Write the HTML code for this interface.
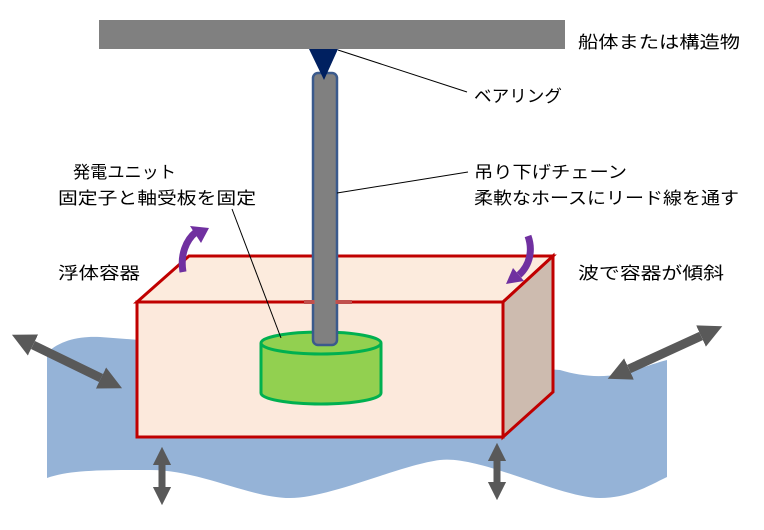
<!DOCTYPE html>
<html><head><meta charset="utf-8"><style>
html,body{margin:0;padding:0;background:#fff;}
svg{display:block}
text{font-family:"Liberation Sans","Noto Sans CJK JP",sans-serif;font-size:17px;fill:#000;}
</style></head><body>
<svg width="764" height="530" viewBox="0 0 764 530" xmlns="http://www.w3.org/2000/svg">
<defs>
<marker id="ah" viewBox="0 0 10 10" refX="0" refY="5" markerWidth="2.6" markerHeight="2.8" orient="auto-start-reverse" markerUnits="strokeWidth">
<path d="M0,0 L10,5 L0,10 z" fill="#595959"/>
</marker>
</defs>
<!-- wave -->
<path d="M47,353 C60,340 80,336 100,337 L140,340 L560,370 C580,376 600,378 620,374 C640,369 655,363 667,360 L667,477 C650,485 630,498 600,498 C560,498 480,455 440,460 C400,465 330,498 290,498 C250,498 200,470 150,470 C100,470 70,470 47,478 Z" fill="#95b3d7"/>
<!-- box -->
<polygon points="137,302 189,256 553,256 503,302" fill="#fcebdd" stroke="#c00000" stroke-width="3" stroke-linejoin="miter"/>
<polygon points="503,302 553,256 553,392 503,437" fill="#cdbbaf" stroke="#c00000" stroke-width="3"/>
<rect x="137" y="302" width="366" height="135" fill="#fce9dc" stroke="#c00000" stroke-width="3"/>
<!-- cylinder -->
<path d="M261,343 L261,393 A60,11 0 0 0 381,393 L381,343" fill="#92d050" stroke="#00b050" stroke-width="3"/>
<ellipse cx="321" cy="343" rx="60" ry="11" fill="#92d050" stroke="#00b050" stroke-width="3"/>
<!-- shaft -->
<rect x="313" y="73" width="24" height="272" rx="5" fill="#808080" stroke="#3b5a8c" stroke-width="2.5"/>
<line x1="304" y1="302" x2="352" y2="302" stroke="#c0504d" stroke-width="4"/>
<rect x="314.5" y="298" width="21" height="8" fill="#808080"/>
<!-- bar -->
<rect x="99" y="20" width="466" height="29" fill="#808080"/>
<polygon points="309,49 338,49 324,80" fill="#002060"/>
<!-- leaders -->
<line x1="338" y1="50" x2="467" y2="92" stroke="#000" stroke-width="1"/>
<line x1="337" y1="193" x2="468" y2="172" stroke="#000" stroke-width="1"/>
<line x1="281" y1="338" x2="232" y2="209" stroke="#000" stroke-width="1"/>
<!-- purple arrows -->
<path d="M183,272 C180,255 186,240 196,232" fill="none" stroke="#7030a0" stroke-width="7"/>
<polygon points="190,226 209,228 201,243" fill="#7030a0"/>
<path d="M528,236 C533,250 530,265 519,275" fill="none" stroke="#7030a0" stroke-width="7"/>
<polygon points="513,268 524,281 506,284" fill="#7030a0"/>
<!-- gray double arrows -->
<g stroke="#595959">
<line x1="33" y1="345" x2="101" y2="378" stroke-width="9" marker-start="url(#ah)" marker-end="url(#ah)"/>
<line x1="629" y1="369" x2="701" y2="336" stroke-width="9" marker-start="url(#ah)" marker-end="url(#ah)"/>
<line x1="162" y1="465" x2="162" y2="487" stroke-width="7" marker-start="url(#ah)" marker-end="url(#ah)"/>
<line x1="497" y1="461" x2="497" y2="482" stroke-width="7" marker-start="url(#ah)" marker-end="url(#ah)"/>
</g>
<!-- labels -->
<text x="578" y="48" textLength="162" lengthAdjust="spacingAndGlyphs">船体または構造物</text>
<text x="474" y="102" textLength="88" lengthAdjust="spacingAndGlyphs">ベアリング</text>
<text x="73" y="178" textLength="103" lengthAdjust="spacingAndGlyphs">発電ユニット</text>
<text x="58" y="204" textLength="198" lengthAdjust="spacingAndGlyphs">固定子と軸受板を固定</text>
<text x="474" y="178" textLength="153" lengthAdjust="spacingAndGlyphs">吊り下げチェーン</text>
<text x="474" y="204" textLength="265" lengthAdjust="spacingAndGlyphs">柔軟なホースにリード線を通す</text>
<text x="58" y="279" textLength="82" lengthAdjust="spacingAndGlyphs">浮体容器</text>
<text x="578" y="279" textLength="146" lengthAdjust="spacingAndGlyphs">波で容器が傾斜</text>
</svg>
</body></html>
